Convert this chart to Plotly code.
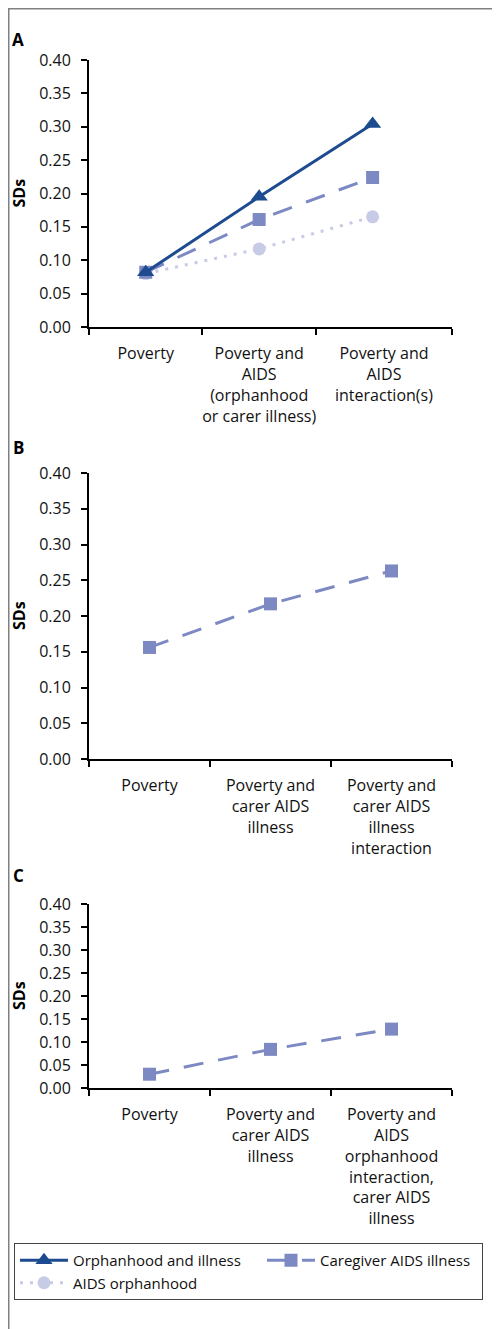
"""
Poverty and AIDS effects (SDs) - three stacked panels
"""

import plotly.graph_objects as go

# ---- data ----
cats_a = ['Poverty', 'Poverty and<br>AIDS<br>(orphanhood<br>or carer illness)',
          'Poverty and<br>AIDS<br>interaction(s)']
cats_b = ['Poverty', 'Poverty and<br>carer AIDS<br>illness',
          'Poverty and<br>carer AIDS<br>illness<br>interaction']
cats_c = ['Poverty', 'Poverty and<br>carer AIDS<br>illness',
          'Poverty and<br>AIDS<br>orphanhood<br>interaction,<br>carer AIDS<br>illness']

orphan_illness_a = [0.082, 0.195, 0.304]
caregiver_a = [0.082, 0.161, 0.224]
orphanhood_a = [0.080, 0.117, 0.165]
caregiver_b = [0.156, 0.217, 0.263]
caregiver_c = [0.030, 0.084, 0.128]

y_ticks = [0.0, 0.05, 0.10, 0.15, 0.20, 0.25, 0.30, 0.35, 0.40]

# ---- style ----
FONT = 'Open Sans'
DARK = '#1d4b8f'
MID = '#7c89c3'
LIGHT = '#c8cbe6'

# the page body has an 8px margin, so the figure is laid out 8px smaller
OFF = 8
W, H = 500 - OFF, 1329 - OFF
L, R, T = 89 - OFF, 0, 60 - OFF
B = H - (1088 - OFF)
PW = W - L - R
PH = H - T - B
AXIS_END = 452  # right end of the x axes (page pixels)


def py(px):
    """page pixel row -> paper y"""
    return (H - B - (px - OFF)) / PH


def pxx(px):
    """page pixel column -> paper x"""
    return (px - OFF - L) / PW


fig = go.Figure()

idx = [0, 1, 2]
# drawn light-to-dark so the triangles sit on top; legendrank keeps legend order
fig.add_trace(go.Scatter(x=idx, y=orphanhood_a, name='AIDS orphanhood',
                         mode='lines+markers', xaxis='x', yaxis='y',
                         legendrank=3, legendwidth=157,
                         line=dict(color=LIGHT, width=3, dash='3px,7px'),
                         marker=dict(symbol='circle', size=13, color=LIGHT)))
fig.add_trace(go.Scatter(x=idx, y=caregiver_a, name='Caregiver AIDS illness',
                         mode='lines+markers', xaxis='x', yaxis='y',
                         legendrank=2, legendwidth=157,
                         line=dict(color=MID, width=3, dash='20px,15px'),
                         marker=dict(symbol='square', size=13, color=MID)))
fig.add_trace(go.Scatter(x=idx, y=orphan_illness_a, name='Orphanhood and illness',
                         mode='lines+markers', xaxis='x', yaxis='y',
                         legendrank=1, legendwidth=184,
                         line=dict(color=DARK, width=3),
                         marker=dict(symbol='triangle-up', size=15, color=DARK)))
fig.add_trace(go.Scatter(x=idx, y=caregiver_b, showlegend=False,
                         mode='lines+markers', xaxis='x2', yaxis='y2',
                         line=dict(color=MID, width=3, dash='20px,15px'),
                         marker=dict(symbol='square', size=13, color=MID)))
fig.add_trace(go.Scatter(x=idx, y=caregiver_c, showlegend=False,
                         mode='lines+markers', xaxis='x3', yaxis='y3',
                         line=dict(color=MID, width=3, dash='20px,15px'),
                         marker=dict(symbol='square', size=13, color=MID)))

x_dom = [0, pxx(AXIS_END)]


def x_axis(anchor, rng, labels, label_pos, bounds):
    return dict(anchor=anchor, domain=x_dom, range=rng,
                showline=True, linecolor='black', linewidth=2,
                showgrid=False, zeroline=False,
                tickmode='array', tickvals=label_pos, ticktext=labels,
                ticks='outside', ticklen=11, tickcolor='rgba(0,0,0,0)',
                tickfont=dict(family=FONT, size=16, color='#111'),
                minor=dict(tickmode='array', tickvals=bounds, ticks='outside',
                           ticklen=6, tickwidth=2, tickcolor='black', showgrid=False))


def y_axis(anchor, dom):
    return dict(anchor=anchor, domain=dom, range=[0, 0.4],
                showline=True, linecolor='black', linewidth=2,
                showgrid=False, zeroline=False,
                tickmode='array', tickvals=y_ticks,
                ticktext=[f'{v:.2f}' for v in y_ticks],
                ticks='outside', ticklen=6, tickwidth=2, tickcolor='black',
                ticklabelstandoff=7,
                tickfont=dict(family=FONT, size=16, color='#111'))


dom_a = [py(327), 1.0]
dom_b = [py(759), py(473)]
dom_c = [0.0, py(904)]

annotations = []
for letter, top in [('A', 39), ('B', 447), ('C', 875)]:
    annotations.append(dict(text='<b>' + letter + '</b>', xref='paper', yref='paper',
                            x=pxx(18), y=py(top), showarrow=False,
                            font=dict(family=FONT, size=17, color='black'),
                            xanchor='center', yanchor='middle'))
for dom in [dom_a, dom_b, dom_c]:
    annotations.append(dict(text='<b>SDs</b>', xref='paper', yref='paper',
                            x=pxx(19), y=(dom[0] + dom[1]) / 2, showarrow=False,
                            textangle=-90,
                            font=dict(family=FONT, size=16, color='black'),
                            xanchor='center', yanchor='middle'))

fig.update_layout(
    width=W, height=H,
    margin=dict(l=L, r=R, t=T, b=B, autoexpand=False),
    paper_bgcolor='white', plot_bgcolor='white',
    font=dict(family=FONT, size=16, color='#111'),
    xaxis=x_axis('y', [-0.5, 2.7], cats_a, [0, 1, 2.1], [-0.5, 0.5, 1.5, 2.7]),
    xaxis2=x_axis('y2', [-0.5, 2.5], cats_b, [0, 1, 2], [-0.5, 0.5, 1.5, 2.5]),
    xaxis3=x_axis('y3', [-0.5, 2.5], cats_c, [0, 1, 2], [-0.5, 0.5, 1.5, 2.5]),
    yaxis=y_axis('x', dom_a),
    yaxis2=y_axis('x2', dom_b),
    yaxis3=y_axis('x3', dom_c),
    annotations=annotations,
    legend=dict(orientation='h', x=pxx(14), y=py(1243), xanchor='left', yanchor='top',
                bordercolor='#444', borderwidth=1, bgcolor='white',
                itemwidth=48, entrywidthmode='pixels',
                font=dict(family=FONT, size=15, color='#111')),
    shapes=[
        dict(type='line', xref='paper', yref='paper', x0=pxx(OFF + 0.5), x1=pxx(OFF + 0.5),
             y0=py(OFF + H), y1=py(OFF), line=dict(color='#808080', width=2)),
        dict(type='line', xref='paper', yref='paper', x0=pxx(OFF), x1=pxx(OFF + W),
             y0=py(OFF + 0.5), y1=py(OFF + 0.5), line=dict(color='#808080', width=2)),
    ],
)

fig.write_html("out.html")
